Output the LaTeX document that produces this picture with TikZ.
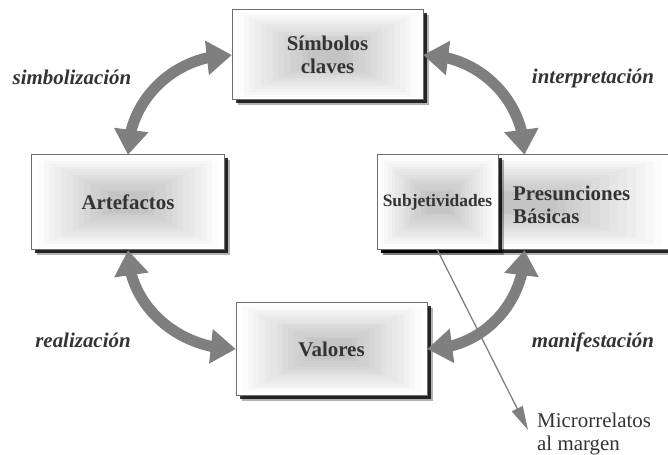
\documentclass[tikz,border=0pt]{standalone}
\usepackage{fontspec}
\setmainfont{Liberation Serif}
\usetikzlibrary{arrows.meta,bending,shadows,calc}
\definecolor{arrowgray}{HTML}{7F7F7F}
\definecolor{txtgray}{HTML}{333333}
\definecolor{edgegray}{HTML}{6E6E6E}
\tikzset{
  boxshade/.style={path picture={
    \foreach \i in {0,...,13}{
      \pgfmathsetmacro{\t}{\i/14*0.85}
      \pgfmathtruncatemacro{\p}{\i*1.8}
      \fill[black!\p] ($(path picture bounding box.south west)!\t!(path picture bounding box.center)$) rectangle ($(path picture bounding box.north east)!\t!(path picture bounding box.center)$);
    }}},
  cbox/.style={fill=white, inner sep=0pt,
    align=center, text=txtgray, font=\bfseries\fontsize{21}{23.5}\selectfont,
    preaction={fill=black, opacity=0.3, transform canvas={shift={(5.5bp,-5.5bp)}}},
    preaction={fill=black, opacity=0.8, transform canvas={shift={(3.5bp,-3.5bp)}}},
    postaction={boxshade},
    postaction={draw=edgegray, line width=1bp}},
  cyc/.style={draw=arrowgray, line width=11bp,
    {Triangle[length=25bp,width=33bp]}-{Triangle[length=25bp,width=33bp]}},
  lbl/.style={text=txtgray, font=\bfseries\itshape\fontsize{21}{23.5}\selectfont, inner sep=0pt},
  ptr/.style={draw=arrowgray, line width=1.3bp, -{Triangle[length=24bp,width=12bp]}},
}
\begin{document}
\begin{tikzpicture}[x=1bp,y=-1bp]
\useasboundingbox (0,0) rectangle (668,455);
% boxes
\node[cbox, minimum width=191bp, minimum height=90bp] (sim) at (327.5,55) {Símbolos\\claves};
\node[cbox, minimum width=192bp, minimum height=95bp] (art) at (128,202.5) {Artefactos};
\node[cbox, minimum width=191bp, minimum height=92bp] (val) at (331.5,349) {Valores};
\node[cbox, minimum width=295bp, minimum height=95bp] (pres) at (524.5,202.5) {};
\node[text=txtgray, font=\bfseries\fontsize{21}{23.5}\selectfont, align=left, anchor=west, inner sep=0pt] (prestxt) at (513,205) {Presunciones\\Básicas};
\node[cbox, minimum width=121bp, minimum height=95bp, font=\bfseries\fontsize{17.5}{20}\selectfont] (subj) at (437.5,202.5) {Subjetividades};
% cycle arrows
\draw[cyc] (art.north) .. controls +(0,-54) and +(-58,0) .. (sim.west);
\draw[cyc] (sim.east) .. controls +(56,0) and +(0,-54) .. (pres.north);
\draw[cyc] (pres.south) .. controls +(0,54) and +(54,0) .. (val.east);
\draw[cyc] (art.south) .. controls +(0,54) and +(-59,0) .. (val.west);
% labels
\node[lbl, anchor=base] (l1) at (72,85) {simbolización};
\node[lbl, anchor=base] (l2) at (593,84) {interpretación};
\node[lbl, anchor=base] (l3) at (83,347) {realización};
\node[lbl, anchor=base] (l4) at (593,347) {manifestación};
% micro
\coordinate (mtip) at (528,430);
\draw[ptr] (subj.south) -- (mtip);
\node[text=txtgray, font=\fontsize{21}{24}\selectfont, align=left, anchor=west, inner sep=0pt] (micro) at (537,434) {Microrrelatos\\al margen};
\end{tikzpicture}
\end{document}
